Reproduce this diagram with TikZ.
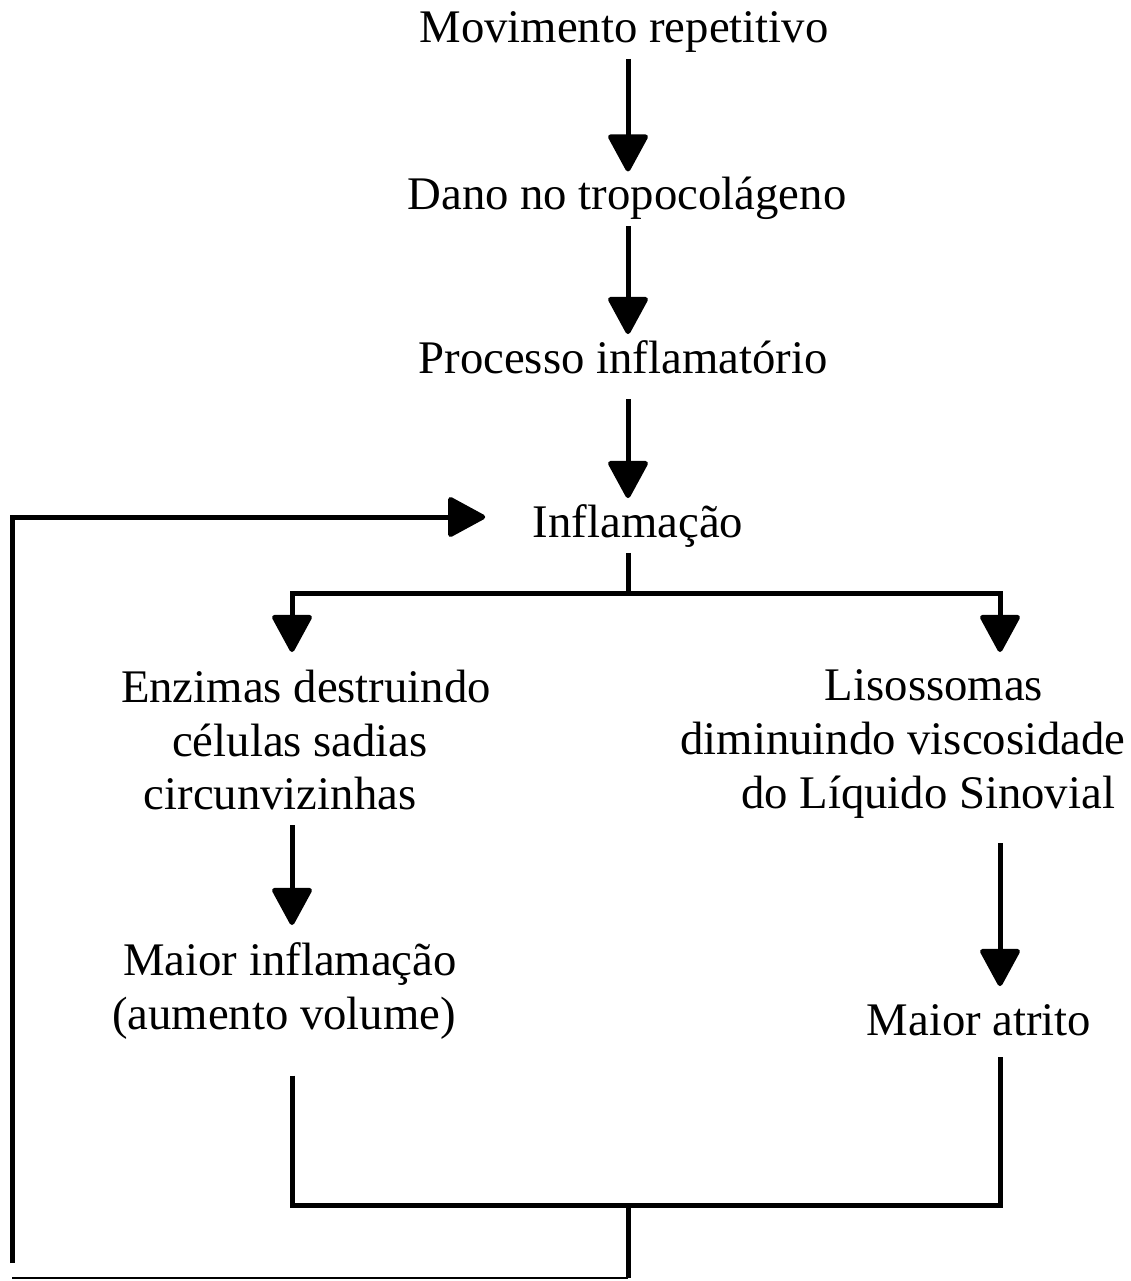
\documentclass[tikz,border=0pt]{standalone}
\usepackage{fontspec}
\setmainfont{Liberation Serif}
\usetikzlibrary{arrows.meta}

\begin{document}
\begin{tikzpicture}[x=0.1mm, y=-0.1mm, >={Triangle[length=4mm, width=4.2mm, round]},
  txt/.style={inner sep=0pt, outer ysep=0.6mm, align=center, font=\fontsize{13.3}{15.3}\selectfont},
  link/.style={line width=0.5mm}]
  \useasboundingbox (0,0) rectangle (1131,1281);
  \coordinate (axis) at (628,0);
  \coordinate (lcol) at (292,0);
  \coordinate (rcol) at (1000,0);
  \node[txt, anchor=base] (mov) at (624,43) {Movimento repetitivo};
  \node[txt, anchor=base] (dano) at (627,210) {Dano no tropocolágeno};
  \node[txt, anchor=base] (proc) at (623,373) {Processo inflamatório};
  \node[txt, anchor=base] (inf) at (638,537) {Inflamação};
  \node[txt, anchor=north] (enz) at (306,664) {Enzimas destruindo\\células sadias\hspace{1.2mm}\mbox{}\\circunvizinhas\hspace{5.2mm}\mbox{}};
  \node[txt, anchor=north] (lis) at (903,664) {\hspace*{6.2mm}Lisossomas\\diminuindo viscosidade\\\hspace*{5mm}do Líquido Sinovial};
  \node[txt, anchor=north] (mai) at (284,937) {\hspace*{1.2mm}Maior inflamação\\(aumento volume)};
  \node[txt, anchor=base] (atr) at (979,1035) {Maior atrito};
  \coordinate (split) at (628,593);
  \coordinate (join) at (628,1205);
  \coordinate (foot) at (628,1278);
  \coordinate (lp) at (12,1263);
  \coordinate (fb) at (12,517);
  \draw[link,->] (mov.south -| axis) -- (dano.north -| axis);
  \draw[link,->] (dano.south -| axis) -- (proc.north -| axis);
  \draw[link,->, shorten <=2mm] (proc.south -| axis) -- (inf.north -| axis);
  \draw[link,->, shorten >=1.2mm] (inf.south -| axis) -- (split) -| (enz.north -| lcol);
  \draw[link,->, shorten >=1.2mm] (split) -| (lis.north -| rcol);
  \draw[link,->, shorten <=0.9mm, shorten >=1.2mm] (enz.south -| lcol) -- (mai.north -| lcol);
  \draw[link,->, shorten <=1.9mm, shorten >=1.2mm] (lis.south -| rcol) -- (atr.north -| rcol);
  \draw[link, shorten <=3mm, shorten >=1.6mm] (mai.south -| lcol) -- (join -| lcol) -- (join -| rcol) -- (atr.south -| rcol);
  \draw[link] (join) -- (foot);
  \draw[line width=0.25mm] (foot) -- (foot -| lp);
  \draw[link,->, shorten >=4.7mm] (lp) -- (fb) -- (fb -| inf.west);
\end{tikzpicture}
\end{document}
